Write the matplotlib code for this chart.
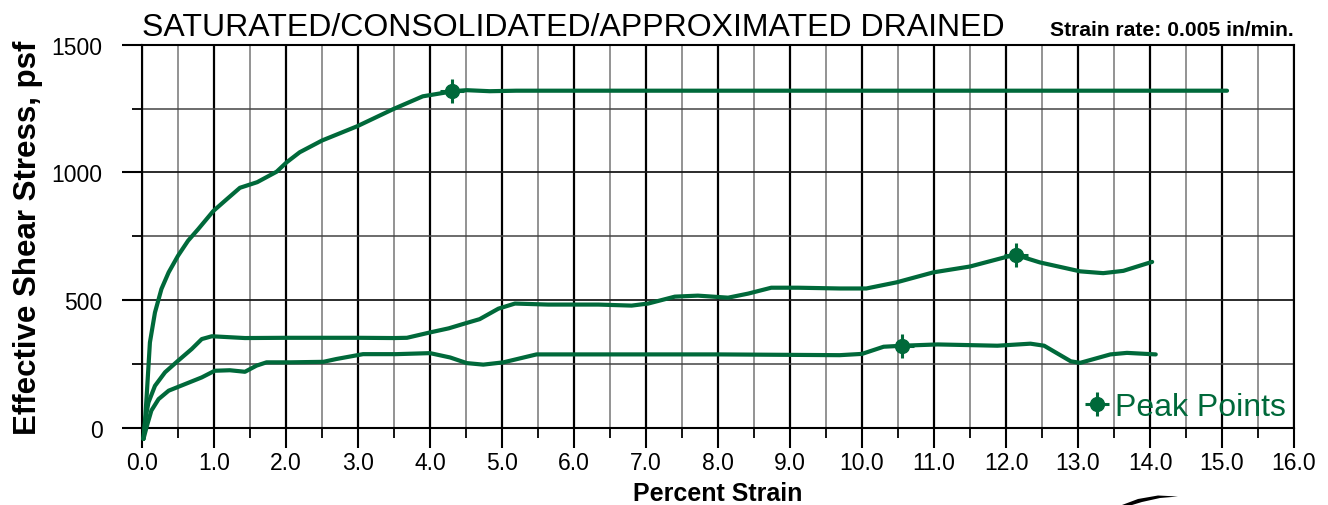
import matplotlib
matplotlib.use("Agg")
import matplotlib.pyplot as plt
from matplotlib.ticker import MultipleLocator, FormatStrFormatter
from matplotlib.lines import Line2D
from matplotlib.patches import Polygon

plt.rcParams['font.family'] = ['Liberation Sans', 'DejaVu Sans']

GREEN = '#00693a'

# ---- data (percent strain, effective shear stress psf) ----
strain_1 = [0.02, 0.04, 0.065, 0.11, 0.18, 0.27, 0.37, 0.5, 0.64, 0.78, 0.99, 1.18, 1.36,
            1.6, 1.87, 2.01, 2.19, 2.5, 2.99, 3.49, 3.9, 4.24, 4.31, 4.51, 4.83, 5.2, 8.0,
            12.0, 15.07]
stress_1 = [-43, 20, 126, 335, 452, 544, 609, 674, 733, 778, 849, 896, 940,
            962, 1003, 1040, 1079, 1125, 1181, 1248, 1298, 1314, 1318, 1322, 1318, 1320, 1320,
            1320, 1320]

strain_2 = [0.02, 0.05, 0.09, 0.18, 0.32, 0.5, 0.69, 0.83, 0.97, 1.43, 2.0, 3.0,
            3.5, 3.68, 4.0, 4.26, 4.46, 4.69, 4.95, 5.18, 5.64, 6.34, 6.8, 7.03, 7.4, 7.72,
            8.14, 8.42, 8.74, 9.11, 9.69, 10.06, 10.48, 10.99, 11.5, 12.01, 12.14, 12.47,
            13.03, 13.35, 13.63, 13.97, 14.03]
stress_2 = [-43, 40, 100, 165, 218, 263, 309, 348, 359, 352, 353, 353,
            352, 353, 374, 390, 407, 426, 467, 487, 483, 483, 479, 487, 514, 518,
            510, 526, 549, 549, 546, 546, 570, 609, 632, 670, 677, 648,
            613, 606, 615, 645, 650]

strain_3 = [0.02, 0.07, 0.13, 0.23, 0.37, 0.6, 0.83, 1.01, 1.22, 1.43, 1.59, 1.73, 2.06, 2.52,
            2.7, 3.07, 3.53, 4.0, 4.28, 4.51, 4.74, 5.02, 5.48, 6.5, 8.0, 9.69, 10.0, 10.3,
            10.56, 11.05, 11.88, 12.34, 12.53, 12.9, 13.03, 13.45, 13.68, 14.08]
stress_3 = [-43, 10, 68, 113, 146, 172, 198, 224, 226, 220, 244, 257, 257, 259,
            270, 289, 289, 293, 276, 254, 248, 257, 288, 288, 288, 285, 290, 318,
            322, 327, 322, 330, 322, 261, 255, 288, 294, 288]

peak_strain = [4.31, 12.14, 10.56]
peak_stress = [1318, 677, 322]

x_ticks = [0.0, 1.0, 2.0, 3.0, 4.0, 5.0, 6.0, 7.0, 8.0, 9.0, 10.0, 11.0, 12.0, 13.0, 14.0, 15.0, 16.0]
y_ticks = [0, 500, 1000, 1500]

fig = plt.figure(figsize=(13.28, 5.06), dpi=100)
ax = fig.add_axes([142 / 1328, 1 - 429 / 506, 1152 / 1328, (429 - 45.7) / 506])

ax.set_xlim(0, 16)
ax.set_ylim(0, 1500)
ax.set_xticks(x_ticks)
ax.set_yticks(y_ticks)
ax.xaxis.set_minor_locator(MultipleLocator(0.5))
ax.yaxis.set_minor_locator(MultipleLocator(250))
ax.xaxis.set_major_formatter(FormatStrFormatter('%.1f'))

ax.grid(True, which='major', axis='x', color='black', lw=1.6)
ax.grid(True, which='minor', axis='x', color='#8a8a8a', lw=1.3)
ax.grid(True, which='major', axis='y', color='#1a1a1a', lw=1.3)
ax.grid(True, which='minor', axis='y', color='#444444', lw=1.1)
ax.set_axisbelow(True)

for s in ax.spines.values():
    s.set_color('black')
    s.set_linewidth(1.5)

ax.tick_params(axis='both', which='major', direction='out', length=14.4, width=1.5,
               labelsize=16.5, colors='black')
ax.tick_params(axis='both', which='minor', direction='out', length=7.2, width=1.3)
ax.tick_params(axis='y', which='major', pad=14)
ax.tick_params(axis='x', which='major', pad=2)

for sx, sy in [(strain_1, stress_1), (strain_2, stress_2), (strain_3, stress_3)]:
    ax.plot(sx, sy, color=GREEN, lw=3.0, solid_capstyle='round', solid_joinstyle='round',
            clip_on=False, zorder=3)

ax.plot(peak_strain, peak_stress, ls='none', marker='o', ms=10, color=GREEN, zorder=4)
ax.plot(peak_strain, peak_stress, ls='none', marker='+', ms=17, mew=2.2, color=GREEN, zorder=4)

h1 = Line2D([], [], ls='none', marker='o', ms=10, color=GREEN)
h2 = Line2D([], [], ls='none', marker='+', ms=17, mew=2.2, color=GREEN)
ax.legend([(h1, h2)], ['Peak Points'],
          loc='center right', bbox_to_anchor=(0.993, 0.055), frameon=False,
          fontsize=23, labelcolor=GREEN, handlelength=1.0, handletextpad=0.05,
          borderpad=0, borderaxespad=0)

ax.set_xlabel('Percent Strain', fontsize=18, fontweight='bold', labelpad=5)
ax.set_ylabel('Effective Shear Stress, psf', fontsize=22.5, fontweight='bold', labelpad=6)

fig.text(142 / 1328, 1 - 36 / 506, 'SATURATED/CONSOLIDATED/APPROXIMATED DRAINED',
         fontsize=23, ha='left', va='baseline')
fig.text(1294 / 1328, 1 - 36.5 / 506, 'Strain rate: 0.005 in/min.',
         fontsize=15.2, fontweight='bold', ha='right', va='baseline')

# cropped logo fragment at the bottom edge
logo_px = [(1122, 506), (1138, 500), (1158, 496.5), (1178, 497.5), (1160, 499), (1142, 503), (1132, 506)]
fig.patches.append(Polygon([(x / 1328, 1 - y / 506) for x, y in logo_px], closed=True,
                           transform=fig.transFigure, facecolor='black', edgecolor='none'))

fig.savefig('out.png', dpi=100)
